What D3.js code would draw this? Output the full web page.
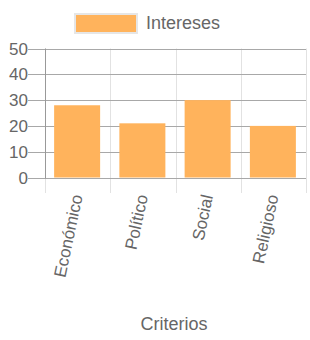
<!DOCTYPE html>
<html><head><meta charset="utf-8">
<script src="https://cdn.jsdelivr.net/npm/d3@7/dist/d3.min.js"></script>
<style>body{margin:0;background:#fff;}svg{display:block;font-family:"Liberation Sans",Arial,sans-serif;}</style>
</head><body>
<svg id="c" width="310" height="340"></svg>
<script>
const categories = ["Económico", "Político", "Social", "Religioso"];
const values = [28, 21, 30, 20];
const yTicks = [0, 10, 20, 30, 40, 50];
const seriesName = "Intereses";
const xTitle = "Criterios";

(function(){
const svg = d3.select("#c");
const mLeft = 45, mRight = 306, mTop = 48.5, mBottom = 177.5;
const x = d3.scaleBand().domain(categories).range([mLeft, mRight]).paddingInner(0).paddingOuter(0);
const y = d3.scaleLinear().domain([0, 50]).range([mBottom, mTop]);
const barColor = "#ffb35c";
const textColor = "#666";

// vertical grid
svg.append("g").selectAll("line").data(categories.concat(["__end"])).join("line")
  .attr("x1", (d,i) => Math.round(i < categories.length ? x(d) : mRight) + 0.5)
  .attr("x2", (d,i) => Math.round(i < categories.length ? x(d) : mRight) + 0.5)
  .attr("y1", mTop).attr("y2", 193)
  .attr("stroke", "#e2e2e2").attr("stroke-width", 1);

// horizontal grid
svg.append("g").selectAll("line").data(yTicks).join("line")
  .attr("x1", 28).attr("x2", mRight)
  .attr("y1", d => Math.round(y(d)) + 0.5).attr("y2", d => Math.round(y(d)) + 0.5)
  .attr("stroke", "#a8a8a8").attr("stroke-width", 1);

// y axis line
svg.append("line").attr("x1", mLeft + 0.5).attr("x2", mLeft + 0.5).attr("y1", mTop).attr("y2", mBottom + 1)
  .attr("stroke", "#999").attr("stroke-width", 1);

// bars
const bw = 46;
svg.append("g").selectAll("rect").data(values).join("rect")
  .attr("x", (d,i) => x(categories[i]) + x.bandwidth()/2 - bw/2 - 0.5)
  .attr("width", bw)
  .attr("y", d => y(d))
  .attr("height", d => y(0) - y(d))
  .attr("fill", barColor);

// y tick labels
svg.append("g").selectAll("text").data(yTicks).join("text")
  .attr("x", 28).attr("y", d => y(d) + 6)
  .attr("text-anchor", "end").attr("font-size", 17).attr("fill", textColor)
  .text(d => d);

// x labels
svg.append("g").selectAll("text").data(categories).join("text")
  .attr("transform", d => `translate(${x(d) + x.bandwidth()/2 + 5},${196}) rotate(-78)`)
  .attr("text-anchor", "end").attr("font-size", 17).attr("fill", textColor)
  .text(d => d);

// legend
svg.append("rect").attr("x", 75).attr("y", 14).attr("width", 62).attr("height", 19)
  .attr("fill", barColor).attr("stroke", "#e6e6e6").attr("stroke-width", 2);
svg.append("text").attr("x", 146).attr("y", 29).attr("font-size", 18).attr("fill", textColor).text(seriesName);

// x title
svg.append("text").attr("x", 174).attr("y", 330).attr("text-anchor", "middle")
  .attr("font-size", 18).attr("fill", textColor).text(xTitle);
})();
</script>
</body></html>
